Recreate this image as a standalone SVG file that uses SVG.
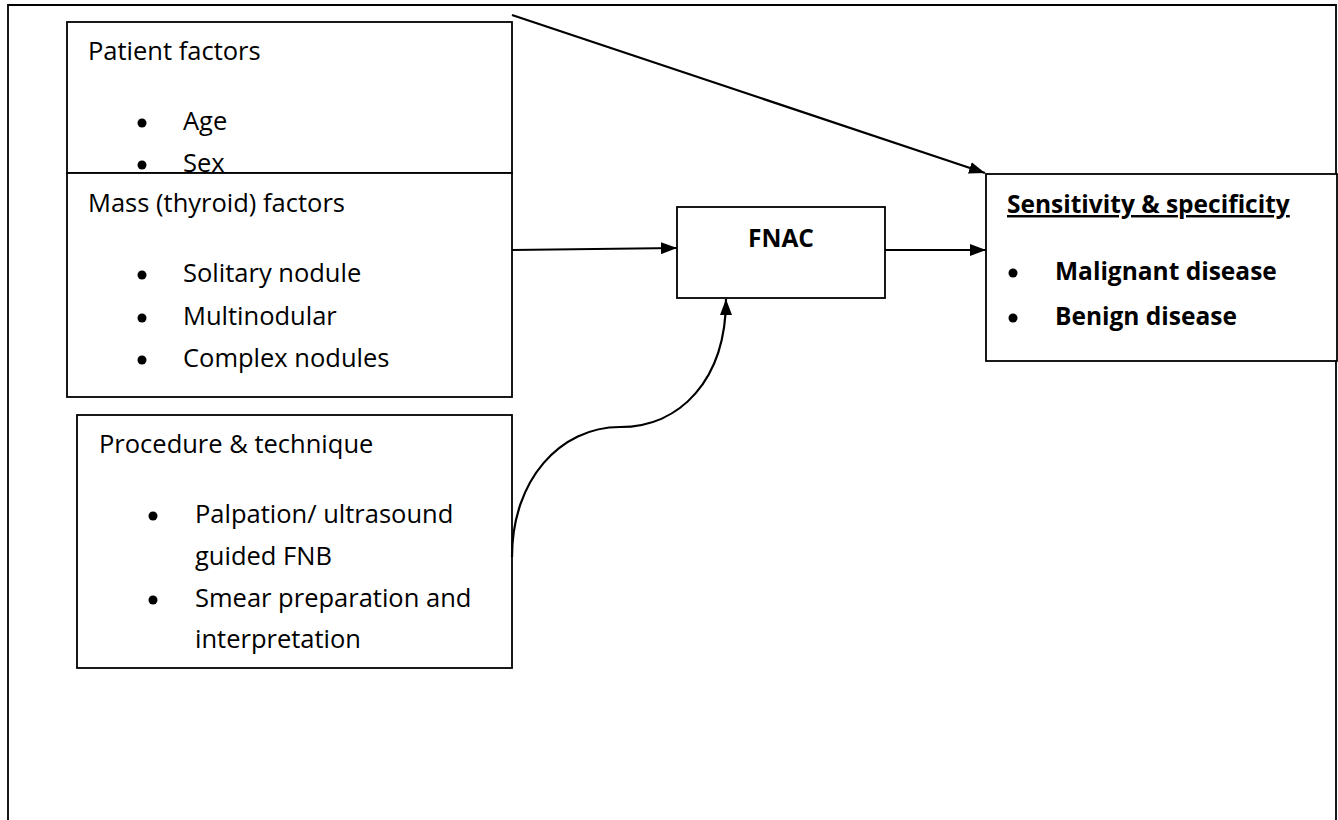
<svg xmlns="http://www.w3.org/2000/svg" width="1338" height="820" viewBox="0 0 1338 820">
<defs>
<style>
.box{fill:#fff;stroke:#000;stroke-width:1.8}
.t{font-family:"Open Sans","Noto Sans",sans-serif;font-size:25.5px;fill:#000}
.b{font-weight:bold;font-size:24.5px}
.c{fill:none;stroke:#000;stroke-width:2.2}
</style>
<marker id="ah" markerWidth="16" markerHeight="12" refX="16" refY="6" orient="auto" markerUnits="userSpaceOnUse">
<path d="M0,0 L16,6 L0,12 Z" fill="#000"/>
</marker>
</defs>
<rect width="1338" height="820" fill="#fff"/>
<g id="frame"><path d="M8,830 L8,5 L1336,5 L1336,830" fill="none" stroke="#000" stroke-width="1.8"/></g>
<g id="patient">
<rect class="box" x="67" y="22" width="445" height="151"/>
<text class="t" x="88" y="60">Patient factors</text>
<circle cx="142" cy="123" r="4.5"/><text class="t" x="183" y="130">Age</text>
<circle cx="142" cy="165" r="4.5"/><text class="t" x="183" y="172">Sex</text>
</g>
<g id="mass">
<rect class="box" x="67" y="173" width="445" height="224"/>
<text class="t" x="88" y="212">Mass (thyroid) factors</text>
<circle cx="142" cy="275" r="4.5"/><text class="t" x="183" y="282">Solitary nodule</text>
<circle cx="142" cy="318" r="4.5"/><text class="t" x="183" y="325">Multinodular</text>
<circle cx="142" cy="360" r="4.5"/><text class="t" x="183" y="367">Complex nodules</text>
</g>
<g id="procedure">
<rect class="box" x="77" y="415" width="435" height="253"/>
<text class="t" x="99" y="453">Procedure &amp; technique</text>
<circle cx="153" cy="516" r="4.5"/><text class="t" x="195" y="523">Palpation/ ultrasound</text>
<text class="t" x="195" y="565">guided FNB</text>
<circle cx="153" cy="600" r="4.5"/><text class="t" x="195" y="607">Smear preparation and</text>
<text class="t" x="195" y="648">interpretation</text>
</g>
<g id="fnac">
<rect class="box" x="677" y="207" width="208" height="91"/>
<text class="t b" x="781" y="247" text-anchor="middle">FNAC</text>
</g>
<g id="sens">
<rect class="box" x="986" y="174" width="351" height="187"/>
<text class="t b" x="1007" y="213" text-decoration="underline">Sensitivity &amp; specificity</text>
<circle cx="1013" cy="273" r="4.5"/><text class="t b" x="1055" y="280">Malignant disease</text>
<circle cx="1013" cy="318" r="4.5"/><text class="t b" x="1055" y="325">Benign disease</text>
</g>
<g id="connectors">
<path class="c" d="M512,15 L985,173" marker-end="url(#ah)"/>
<path class="c" d="M512,250 L677,248" marker-end="url(#ah)"/>
<path class="c" d="M885,250 L986,250" marker-end="url(#ah)"/>
<path class="c" d="M512,557 C512,480 560,427 620,427 C680,427 726,380 726,299" marker-end="url(#ah)"/>
</g>
</svg>
